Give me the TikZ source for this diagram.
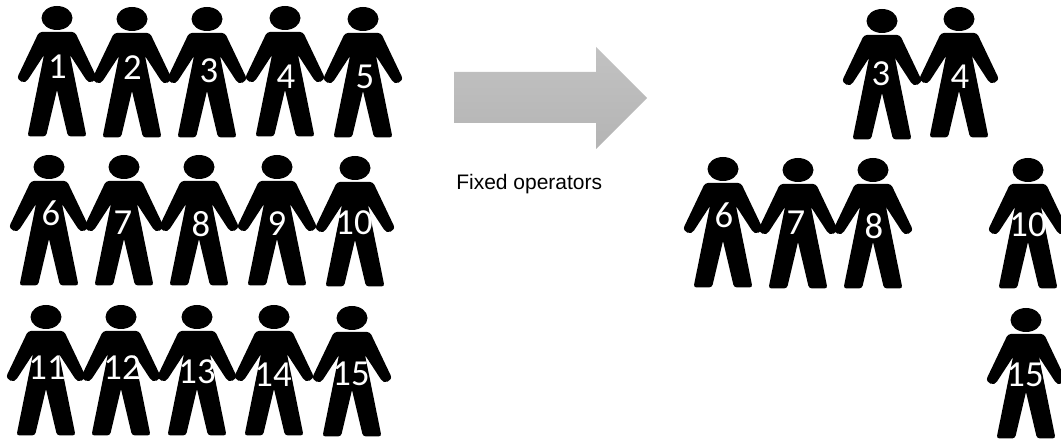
\documentclass[tikz,border=0pt]{standalone}
\usepackage{fontspec}
\setmainfont{Liberation Sans}
\newfontfamily\digitfont{Carlito}
\usetikzlibrary{positioning}
\definecolor{arrowtop}{HTML}{C2C2C2}
\definecolor{arrowbottom}{HTML}{B4B4B4}
\tikzset{
  person/.pic={
    \fill (0,0) ellipse [x radius=15.5, y radius=12];
    \fill (-13,37) [rounded corners=2.2pt] -- (-29.5,118.5) -- (-11,118.5) [sharp corners] -- (0,72) [rounded corners=2.2pt] -- (11,118.5) -- (29.5,118.5) [sharp corners] -- (13,37)
      -- (29,61.5) .. controls (31.5,67) and (41.5,63) .. (38.5,57) [rounded corners=2.2pt] -- (18,14) -- (-18,14) [sharp corners] -- (-38.5,57) .. controls (-41.5,63) and (-31.5,67) .. (-29,61.5) -- cycle;
  },
  number/.style={text=white, inner sep=0pt, font=\digitfont\fontsize{27.5}{28}\selectfont}
}

\begin{document}
\begin{tikzpicture}[x=0.75pt, y=-0.75pt]
  \useasboundingbox (0,0) rectangle (1061,441);

  \pic at (57,18) {person}; \node[number] (p1) at (57.5,67) {1};
  \pic at (132,19) {person}; \node[number] (p2) at (132.5,68) {2};
  \pic at (207,19) {person}; \node[number] (p3) at (209,71) {3};
  \pic at (285,18) {person}; \node[number] (p4) at (286,77) {4};
  \pic at (363,19) {person}; \node[number] (p5) at (365,77) {5};

  \pic at (49,167) {person}; \node[number] (p6) at (51,213) {6};
  \pic at (124,167) {person}; \node[number] (p7) at (123,223) {7};
  \pic at (199,167) {person}; \node[number] (p8) at (201,224) {8};
  \pic at (277,167) {person}; \node[number] (p9) at (277,224) {9};
  \pic at (355,168) {person}; \node[number] (p10) at (354,223) {10};

  \pic at (46,317) {person}; \node[number] (p11) at (47,368) {11};
  \pic at (121,317) {person}; \node[number] (p12) at (122,368) {12};
  \pic at (197,317) {person}; \node[number] (p13) at (197,372) {13};
  \pic at (274,317) {person}; \node[number] (p14) at (273,375) {14};
  \pic at (352,318) {person}; \node[number] (p15) at (351,374) {15};

  \shade[top color=arrowtop, bottom color=arrowbottom] (454,72) -- (596,72) -- (596,47) -- (647,98) -- (596,149) -- (596,123) -- (454,123) -- cycle;
  \node[anchor=base west, inner sep=0pt, font=\fontsize{15.75}{18}\selectfont] (caption) at (456,190) {Fixed operators};

  \pic at (882,21) {person}; \node[number] (q3) at (881,74) {3};
  \pic at (959,19) {person}; \node[number] (q4) at (960,77) {4};

  \pic at (723,169) {person}; \node[number] (q6) at (724,215) {6};
  \pic at (798,170) {person}; \node[number] (q7) at (796,223) {7};
  \pic at (873,170) {person}; \node[number] (q8) at (874,226) {8};

  \pic at (1028,170) {person}; \node[number] (q10) at (1028,225) {10};
  \pic at (1026,320) {person}; \node[number] (q15) at (1025,375) {15};
\end{tikzpicture}
\end{document}
